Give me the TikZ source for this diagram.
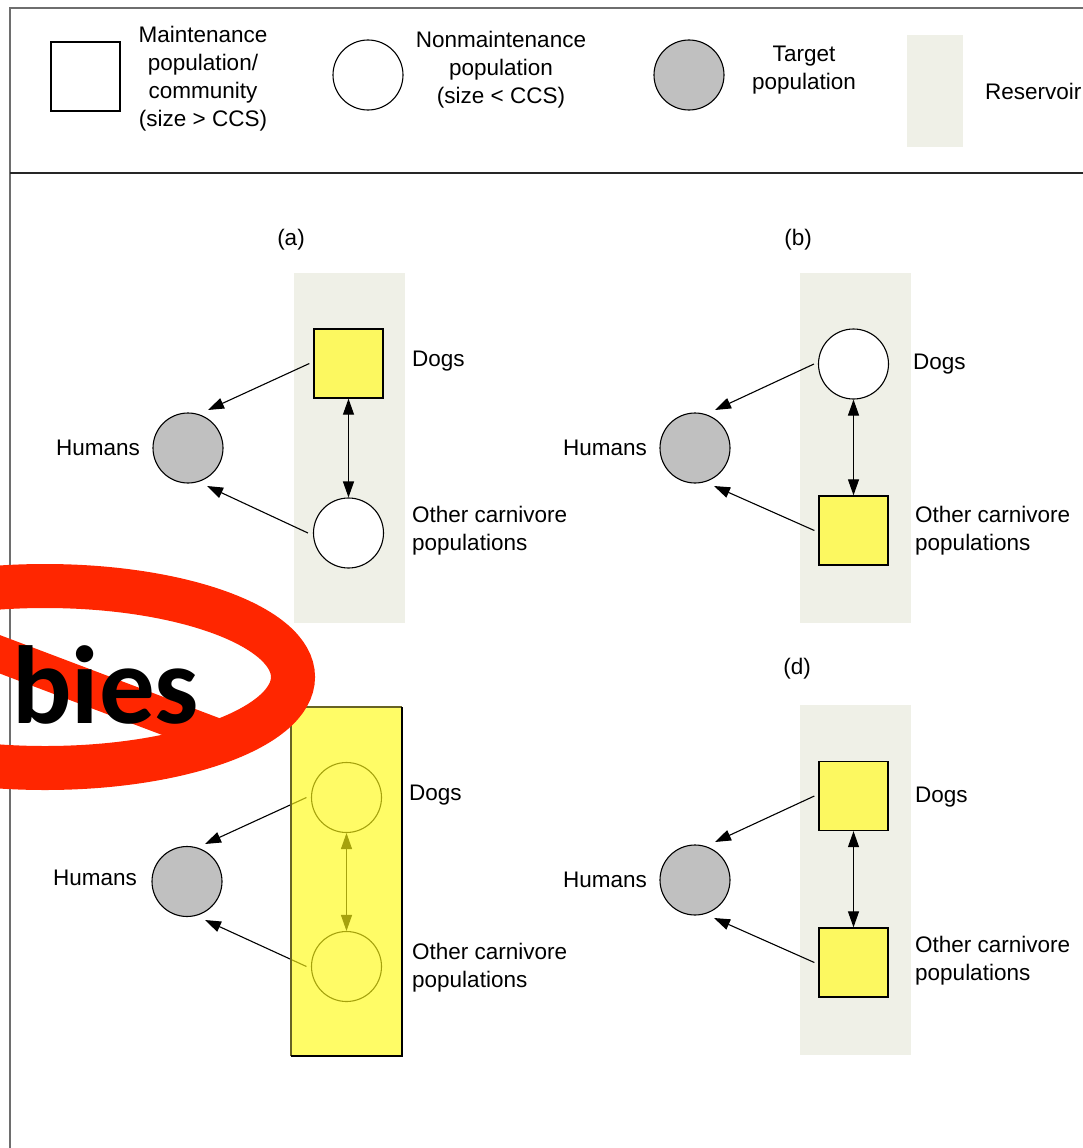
\documentclass[tikz,border=0pt]{standalone}
\usepackage{fontspec}
\setmainfont{Liberation Sans}
\newfontfamily\slogansans{Carlito}
\usetikzlibrary{arrows.meta,calc}

\definecolor{resv}{RGB}{239,240,231}
\definecolor{popyellow}{RGB}{252,248,96}
\definecolor{overyellow}{RGB}{255,250,20}
\definecolor{banred}{RGB}{255,38,0}
\definecolor{targetgray}{RGB}{192,192,192}
\definecolor{framegray}{RGB}{110,110,110}

\tikzset{
  maint/.style={draw, line width=1.3pt, minimum size=69pt, inner sep=0pt, fill=popyellow},
  nonmaint/.style={circle, draw, line width=1.1pt, minimum size=70pt, inner sep=0pt, fill=white},
  target/.style={circle, draw, line width=1.1pt, minimum size=70pt, inner sep=0pt, fill=targetgray},
  resstrip/.style={fill=resv, draw=none, inner sep=0pt, minimum width=111pt, minimum height=350pt},
  lbl/.style={font=\fontsize{22.5}{28}\selectfont, align=left, inner sep=0pt},
  link/.style={-{Triangle[length=16pt,width=11pt]}, line width=1.1pt},
  twoway/.style={{Triangle[length=16pt,width=11pt]}-{Triangle[length=16pt,width=11pt]}, line width=1.1pt},
}

\begin{document}
\begin{tikzpicture}[x=1pt,y=-1pt]
\useasboundingbox (0,0) rectangle (1083,1148);

% frame and legend divider
\draw[framegray, line width=2pt] (10,1148) -- (10,8) -- (1083,8);
\draw[black!85, line width=2pt] (10,173) -- (1083,173);

% legend
\node[maint, fill=white] (lgmaint) at (85.5,76.5) {};
\node[lbl, align=center] (lgmainttxt) at (203,79) {Maintenance\\population/\\community\\(size > CCS)};
\node[nonmaint] (lgnon) at (368,75) {};
\node[lbl, align=center] (lgnontxt) at (501,70) {Nonmaintenance\\population\\(size < CCS)};
\node[target] (lgtarget) at (689,75) {};
\node[lbl, align=center] (lgtargettxt) at (804,70) {Target\\population};
\node[resstrip, minimum width=56pt, minimum height=112pt] (lgres) at (935,91) {};
\node[lbl, anchor=west] (lgrestxt) at (985,91) {Reservoir};

% panel (a)
\node[lbl] (la) at (291,240) {(a)};
\node[resstrip] (ra) at (349.5,448) {};
\node[maint] (dogsa) at (348.5,363.5) {};
\node[nonmaint] (otha) at (348.5,533) {};
\node[target] (huma) at (188,448) {};
\node[lbl, anchor=west] (dogsatxt) at (412,361) {Dogs};
\node[lbl, anchor=west] (othatxt) at (412,531) {Other carnivore\\populations};
\node[lbl, anchor=east] (humatxt) at (140,448) {Humans};
\draw[link] ($(dogsa.west)+(-4,0)$) -- ($(huma.center)+(20,-38)$);
\draw[link] ($(otha.west)+(-5,0)$) -- ($(huma.center)+(19,38)$);
\draw[twoway] (dogsa.south) -- (otha.north);

% panel (b)
\node[lbl] (lb) at (798,240) {(b)};
\node[resstrip] (rb) at (855.5,448) {};
\node[nonmaint] (dogsb) at (853.5,364) {};
\node[maint] (othb) at (853.5,530.5) {};
\node[target] (humb) at (695,448) {};
\node[lbl, anchor=west] (dogsbtxt) at (913,364) {Dogs};
\node[lbl, anchor=west] (othbtxt) at (915,531) {Other carnivore\\populations};
\node[lbl, anchor=east] (humbtxt) at (647,448) {Humans};
\draw[link] ($(dogsb.west)+(-4,0)$) -- ($(humb.center)+(20,-38)$);
\draw[link] ($(othb.west)+(-4,0)$) -- ($(humb.center)+(19,38)$);
\draw[twoway] (dogsb.south) -- (othb.north);

% panel (c)
\node[lbl] (lc) at (291,669) {(c)};
\node[nonmaint] (dogsc) at (346.5,797.5) {};
\node[nonmaint] (othc) at (346.5,966.5) {};
\node[target] (humc) at (187,881.5) {};
\node[lbl, anchor=west] (dogsctxt) at (409,795) {Dogs};
\node[lbl, anchor=west] (othctxt) at (412,968) {Other carnivore\\populations};
\node[lbl, anchor=east] (humctxt) at (137,878) {Humans};
\draw[link] ($(dogsc.west)+(-4.5,0)$) -- ($(humc.center)+(18,-37.5)$);
\draw[link] ($(othc.west)+(-4.5,0)$) -- ($(humc.center)+(18,38.5)$);
\draw[twoway] (dogsc.south) -- (othc.north);
% community highlight laid over panel (c)
\fill[overyellow, fill opacity=0.65] (291,707) rectangle (402,1056);
\draw[black!35!olive, line width=1.2pt] (291,1056) -- (291,707) -- (402,707);
\draw[black, line width=1.6pt] (402,707) -- (402,1056) -- (291,1056);

% panel (d)
\node[lbl] (ld) at (797,669) {(d)};
\node[resstrip] (rd) at (855.5,880) {};
\node[maint] (dogsd) at (853.5,796) {};
\node[maint] (othd) at (853.5,962.5) {};
\node[target] (humd) at (695,880) {};
\node[lbl, anchor=west] (dogsdtxt) at (915,797) {Dogs};
\node[lbl, anchor=west] (othdtxt) at (915,961) {Other carnivore\\populations};
\node[lbl, anchor=east] (humdtxt) at (647,880) {Humans};
\draw[link] ($(dogsd.west)+(-4,0)$) -- ($(humd.center)+(20,-38)$);
\draw[link] ($(othd.west)+(-4,0)$) -- ($(humd.center)+(19,38)$);
\draw[twoway] (dogsd.south) -- (othd.north);

% prohibition sign with slogan
\begin{scope}
  \clip (0,0) rectangle (1083,1148);
  \draw[banred, line width=44pt] (45,677) ellipse [x radius=248, y radius=91];
  \draw[banred, line width=36pt] (-30,643) -- (230,741.4);
  \node[font=\slogansans\bfseries\fontsize{111}{111}\selectfont, anchor=base west, inner sep=0pt] (slogan) at (12,723) {bies};
\end{scope}
\end{tikzpicture}
\end{document}
